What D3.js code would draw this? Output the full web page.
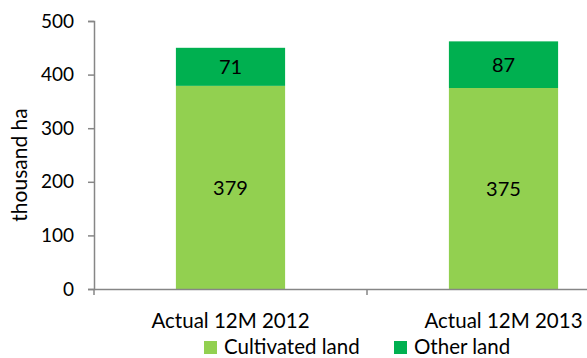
<!DOCTYPE html>
<html>
<head>
<meta charset="utf-8">
<script src="https://cdn.jsdelivr.net/npm/d3@7"></script>
<style>
  html, body { margin: 0; padding: 0; background: #fff; }
  svg { display: block; font-family: Lato, "Open Sans", sans-serif; }
</style>
</head>
<body>
<svg id="chart" width="587" height="358"></svg>
<script>
// Land area by period, thousand hectares
const categories = ["Actual 12M 2012", "Actual 12M 2013"];
const cultivated = [379, 375];
const other = [71, 87];
const seriesNames = ["Cultivated land", "Other land"];
const seriesColors = ["#92D050", "#00B050"];
const yTicks = [0, 100, 200, 300, 400, 500];

(function () {
const svg = d3.select("#chart");
const fontSize = 20;
const axisColor = "#868686";

const plotLeft = 94, plotRight = 640, plotTop = 21, plotBottom = 289;

const x = d3.scaleBand().domain(categories).range([plotLeft, plotRight]).paddingInner(0).paddingOuter(0);
const barW = x.bandwidth() * 0.4;
const y = d3.scaleLinear().domain([0, 500]).range([plotBottom, plotTop]);

const rows = categories.map((c, i) => ({ cat: c, cultivated: cultivated[i], other: other[i] }));
const stack = d3.stack().keys(["cultivated", "other"])(rows);

// stacked bars
stack.forEach((layer, li) => {
  svg.append("g").selectAll("rect").data(layer).join("rect")
    .attr("x", d => x(d.data.cat) + (x.bandwidth() - barW) / 2)
    .attr("width", barW)
    .attr("y", d => y(d[1]))
    .attr("height", d => y(d[0]) - y(d[1]))
    .attr("fill", seriesColors[li]);
  // value labels centred in each segment
  svg.append("g").selectAll("text").data(layer).join("text")
    .attr("x", d => x(d.data.cat) + x.bandwidth() / 2)
    .attr("y", d => (y(d[0]) + y(d[1])) / 2)
    .attr("dy", "0.36em")
    .attr("text-anchor", "middle")
    .attr("font-size", fontSize)
    .attr("fill", "#000")
    .text(d => d[1] - d[0]);
});

// y axis
const yAxis = svg.append("g").attr("transform", `translate(${plotLeft},0)`)
  .call(d3.axisLeft(y).tickValues(yTicks).tickSize(6).tickPadding(14));
yAxis.select(".domain").attr("stroke", axisColor).attr("stroke-width", 1.5);
yAxis.selectAll(".tick line").attr("stroke", axisColor).attr("stroke-width", 1.5);
yAxis.selectAll(".tick text").attr("font-size", 19).attr("font-family", "Lato").attr("fill", "#000");

// x axis
const xAxis = svg.append("g").attr("transform", `translate(0,${plotBottom})`)
  .call(d3.axisBottom(x).tickSize(0).tickPadding(24));
xAxis.select(".domain").attr("stroke", axisColor).attr("stroke-width", 1.5);
xAxis.selectAll(".tick text").attr("font-size", 20.5).attr("font-family", "Lato").attr("fill", "#000");
// boundary ticks between categories
svg.append("g").selectAll("line").data(categories.concat([null]))
  .join("line")
  .attr("x1", (d, i) => plotLeft + i * x.bandwidth())
  .attr("x2", (d, i) => plotLeft + i * x.bandwidth())
  .attr("y1", plotBottom).attr("y2", plotBottom + 6)
  .attr("stroke", axisColor).attr("stroke-width", 1.5);

// y axis title
svg.append("text")
  .attr("transform", `translate(27,165) rotate(-90)`)
  .attr("text-anchor", "middle")
  .attr("font-size", 21)
  .text("thousand ha");

// legend
const legendX = [204, 394];
const lg = svg.append("g").selectAll("g").data(seriesNames).join("g")
  .attr("transform", (d, i) => `translate(${legendX[i]},341)`);
lg.append("rect").attr("width", 13).attr("height", 13).attr("fill", (d, i) => seriesColors[i]);
lg.append("text").attr("x", 20).attr("y", 13).attr("font-size", 20.5).text(d => d);
})();
</script>
</body>
</html>
